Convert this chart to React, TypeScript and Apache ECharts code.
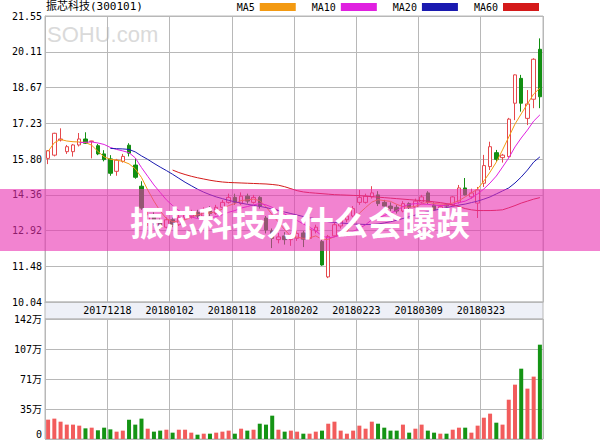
import React, { useEffect, useRef } from "react";
import * as echarts from "echarts";

const title = "振芯科技(300101)";
const bannerText = "振芯科技为什么会曝跌";
const watermark = "SOHU.com";

const dates = [
  "20171204","20171205","20171206","20171207","20171208","20171211","20171212","20171213","20171214","20171215",
  "20171218","20171219","20171220","20171221","20171222","20171225","20171226","20171227","20171228","20171229",
  "20180102","20180103","20180104","20180105","20180108","20180109","20180110","20180111","20180112","20180115",
  "20180118","20180119","20180122","20180123","20180125","20180126","20180129","20180130","20180131","20180201",
  "20180202","20180205","20180206","20180207","20180208","20180209","20180212","20180213","20180214","20180222",
  "20180223","20180226","20180227","20180228","20180301","20180302","20180305","20180306","20180307","20180308",
  "20180309","20180312","20180313","20180314","20180315","20180316","20180319","20180320","20180321","20180322",
  "20180323","20180326","20180327","20180328","20180329","20180330","20180402","20180403","20180404","20180409",
];
const shownDates = ["20171218","20180102","20180118","20180202","20180223","20180309","20180323"];

const opens = [
  15.82,15.95,16.56,16.09,16.09,16.36,16.60,16.50,16.33,16.00,
  15.80,15.30,15.70,16.35,15.55,14.70,13.30,13.50,13.25,13.05,
  13.35,13.15,13.45,13.50,13.65,13.50,13.75,13.60,13.85,14.05,
  14.25,14.00,14.30,14.05,14.25,13.42,12.90,12.55,12.70,12.55,
  12.60,12.82,12.60,12.90,12.47,11.05,12.70,13.10,13.35,13.50,
  14.05,14.05,14.27,14.35,14.05,13.90,13.85,13.70,14.00,13.85,
  14.06,14.43,13.94,13.76,13.95,13.94,14.06,14.63,14.27,14.02,
  14.82,15.49,16.05,15.85,15.89,18.04,19.04,17.43,18.20,20.21,
];
const closes = [
  16.13,16.83,16.60,16.29,16.36,16.60,16.43,16.52,16.00,15.77,
  15.22,15.75,15.90,16.03,15.06,13.82,13.55,13.25,13.05,13.35,
  13.15,13.45,13.55,13.65,13.50,13.75,13.60,13.85,14.05,14.25,
  14.05,14.30,14.10,14.25,13.90,12.94,12.60,12.66,12.55,12.65,
  12.80,12.57,12.95,13.05,11.53,12.68,13.15,13.35,13.50,13.80,
  14.25,14.30,14.43,14.00,13.90,13.80,13.70,14.00,13.85,14.10,
  14.27,14.06,13.74,13.88,13.90,14.27,14.63,14.35,14.43,14.55,
  15.53,16.29,15.78,15.95,17.40,19.18,18.04,18.01,19.81,18.30,
];
const lows = [
  15.59,15.90,16.50,16.00,15.89,16.30,16.40,15.82,15.95,15.70,
  15.12,15.12,15.65,15.90,15.00,13.75,13.10,13.15,12.95,13.00,
  13.05,13.10,13.35,13.40,13.40,13.45,13.50,13.55,13.80,14.00,
  13.95,13.95,14.00,14.00,13.80,12.80,12.21,12.40,12.35,12.30,
  12.50,12.25,12.55,12.80,11.50,11.00,12.65,13.00,13.25,13.45,
  13.95,14.00,14.20,13.90,13.80,13.70,13.60,13.65,13.75,13.80,
  14.00,13.98,13.70,13.70,13.80,13.90,14.00,14.33,14.20,13.42,
  14.67,15.35,15.69,15.65,15.85,17.36,17.70,17.16,17.84,17.84,
];
const highs = [
  16.15,16.85,17.03,16.36,16.40,16.84,16.87,16.53,16.40,16.15,
  15.95,15.80,16.00,16.43,15.82,14.90,13.70,13.65,13.40,13.45,
  13.45,13.55,13.70,13.75,13.75,13.85,13.90,13.95,14.15,14.40,
  14.40,14.45,14.40,14.35,14.30,13.50,13.00,12.82,12.85,12.80,
  12.90,12.90,13.10,13.15,12.55,12.74,13.25,13.45,13.60,13.90,
  14.55,14.40,14.70,14.50,14.15,14.05,13.95,14.10,14.05,14.20,
  14.35,14.50,14.05,13.95,14.00,14.30,14.75,15.03,14.60,14.67,
  15.96,16.49,16.16,16.00,17.45,19.20,19.18,18.57,19.85,20.65,
];
// 成交量（万）
const volumes = [
  22.9,24.1,20.5,17.0,17.0,15.8,12.6,13.4,10.3,13.4,
  11.4,8.7,9.9,22.9,17.0,24.1,12.2,8.7,9.9,11.0,
  7.5,11.0,11.0,7.5,5.1,6.3,6.3,7.5,8.7,9.9,
  6.3,12.2,9.9,11.0,18.1,17.0,27.6,11.0,8.7,9.9,
  8.7,6.3,6.3,8.7,9.9,18.1,20.5,9.9,6.3,9.9,
  15.8,12.2,20.5,18.1,13.4,9.9,9.9,17.0,7.5,12.2,
  17.0,9.9,7.5,6.3,6.3,11.0,13.4,13.4,7.5,15.8,
  25.2,30.0,19.3,17.0,46.5,64.3,83.2,59.6,73.8,111.6,
];
const ma5 = [
  16.10,16.45,16.58,16.52,16.49,16.48,16.46,16.35,16.10,15.88,
  15.78,15.75,15.70,15.60,15.40,15.05,14.55,14.10,13.70,13.40,
  13.27,13.30,13.35,13.45,13.55,13.60,13.62,13.68,13.78,13.92,
  14.00,14.12,14.15,14.18,14.12,13.88,13.55,13.25,12.95,12.68,
  12.65,12.60,12.62,12.70,12.56,12.56,12.67,12.75,12.84,13.30,
  13.61,13.84,14.06,14.16,14.12,14.09,13.97,13.88,13.85,13.89,
  13.98,14.06,14.00,13.98,13.97,14.02,14.12,14.27,14.43,14.59,
  14.91,15.27,15.67,16.16,16.68,17.20,17.61,18.01,18.41,18.65,
];
const ma10 = [
  null,null,null,null,null,16.45,16.47,16.48,16.44,16.38,
  16.26,16.18,16.12,16.05,15.84,15.45,15.10,14.75,14.45,14.15,
  13.92,13.72,13.56,13.46,13.40,13.38,13.42,13.48,13.55,13.65,
  13.72,13.82,13.88,13.95,14.00,13.95,13.85,13.72,13.58,13.45,
  13.32,13.18,13.05,12.90,12.70,12.62,12.66,12.74,12.82,12.88,
  13.00,13.15,13.35,13.43,13.52,13.62,13.72,13.88,13.97,14.00,
  13.98,13.97,13.94,13.92,13.93,13.97,14.04,14.10,14.22,14.39,
  14.59,14.83,15.11,15.47,15.84,16.28,16.64,16.96,17.32,17.57,
];
const ma20 = [
  null,null,null,null,null,null,null,null,null,null,
  16.22,16.21,16.20,16.18,16.08,15.92,15.78,15.62,15.47,15.33,
  15.18,15.02,14.86,14.72,14.58,14.46,14.36,14.27,14.20,14.13,
  14.07,14.02,13.97,13.93,13.89,13.84,13.78,13.72,13.66,13.60,
  13.54,13.48,13.43,13.39,13.32,13.27,13.24,13.22,13.20,13.18,
  13.17,13.16,13.16,13.18,13.22,13.27,13.33,13.40,13.47,13.54,
  13.62,13.68,13.73,13.78,13.84,13.89,13.94,13.98,14.04,14.10,
  14.18,14.27,14.39,14.51,14.63,14.83,15.07,15.35,15.67,15.88,
];
const ma60 = [
  null,null,null,null,null,null,null,null,null,null,
  null,null,null,null,null,null,null,null,null,null,
  15.35,15.25,15.17,15.10,15.04,14.99,14.94,14.90,14.87,14.85,
  14.84,14.83,14.82,14.81,14.80,14.79,14.77,14.74,14.68,14.60,
  14.52,14.47,14.44,14.42,14.40,14.38,14.36,14.35,14.34,14.33,
  14.32,14.30,14.28,14.26,14.24,14.22,14.20,14.18,14.16,14.14,
  14.12,14.10,14.07,14.04,14.00,13.95,13.88,13.80,13.75,13.72,
  13.72,13.72,13.73,13.75,13.83,13.92,14.02,14.10,14.18,14.24,
];

const priceTicks = ["10.04","11.48","12.92","14.36","15.80","17.23","18.67","20.11","21.55"];
const priceMin = 10.04;
const priceMax = 21.55;
const volumeTicks = ["0","35万","71万","107万","142万"];
const volumeMax = 142;

const MONO = "'DejaVu Sans Mono', 'Noto Sans CJK SC', monospace";
const GRID = "#b8b8b8";
const RED = "#e5484c";
const GREEN = "#128f12";
const VOL_RED = "#f25c5c";
const VOL_GREEN = "#159415";

export default function App() {
  const ref = useRef<HTMLDivElement>(null);
  useEffect(() => {
    if (!ref.current) return;
    const chart = echarts.init(ref.current, undefined, { renderer: "svg" });
    const showDate = (_i: number, v: string) => shownDates.includes(v);
    const volInterval = volumeMax / (volumeTicks.length - 1);
    const maSeries = (name: string, data: (number | null)[], color: string) => ({
      name,
      type: "line",
      xAxisIndex: 0,
      yAxisIndex: 0,
      data,
      symbol: "none",
      showSymbol: false,
      lineStyle: { width: 1, color },
      itemStyle: { color },
      z: 5,
    });
    chart.setOption({
      animation: false,
      backgroundColor: "#ffffff",
      title: {
        text: title,
        left: 46,
        top: 1,
        padding: 0,
        textStyle: { fontSize: 11, fontWeight: "normal", color: "#000", fontFamily: MONO },
      },
      legend: {
        data: ["MA5", "MA10", "MA20", "MA60"],
        right: 61,
        top: 2,
        padding: 0,
        align: "right",
        icon: "rect",
        itemWidth: 36,
        itemHeight: 8,
        itemGap: 16,
        textStyle: { fontSize: 10, color: "#000", fontFamily: MONO },
      },
      grid: [
        { left: 45, top: 16, width: 498, height: 286, show: true, borderColor: GRID, borderWidth: 1, backgroundColor: "transparent" },
        { left: 45, top: 319, width: 498, height: 120, show: true, borderColor: GRID, borderWidth: 1, backgroundColor: "transparent" },
      ],
      xAxis: [
        {
          type: "category",
          gridIndex: 0,
          data: dates,
          boundaryGap: true,
          axisLine: { show: true, lineStyle: { color: GRID } },
          axisTick: { show: false },
          axisLabel: {
            interval: showDate,
            fontSize: 10,
            fontFamily: MONO,
            color: "#000",
            margin: 3,
            padding: [0, 6, 0, 0],
          },
          splitLine: { show: true, interval: showDate, lineStyle: { color: GRID } },
        },
        {
          type: "category",
          gridIndex: 1,
          data: dates,
          boundaryGap: true,
          axisLine: { show: false },
          axisTick: { show: false },
          axisLabel: { show: false },
          splitLine: { show: true, interval: showDate, lineStyle: { color: GRID } },
        },
      ],
      yAxis: [
        { type: "value", gridIndex: 0, min: priceMin, max: priceMax, show: false },
        {
          type: "value",
          gridIndex: 0,
          min: 0,
          max: priceTicks.length - 1,
          interval: 1,
          position: "left",
          axisLine: { show: true, lineStyle: { color: GRID } },
          axisTick: { show: false },
          axisLabel: {
            margin: 3,
            fontSize: 10,
            fontFamily: MONO,
            color: "#000",
            formatter: (v: number) => priceTicks[Math.round(v)],
          },
          splitLine: { show: true, lineStyle: { color: GRID } },
        },
        {
          type: "value",
          gridIndex: 1,
          min: 0,
          max: volumeMax,
          interval: volInterval,
          position: "left",
          axisLine: { show: true, lineStyle: { color: GRID } },
          axisTick: { show: false },
          axisLabel: {
            margin: 3,
            fontSize: 10,
            fontFamily: MONO,
            color: "#000",
            formatter: (v: number) => {
              const i = Math.round(v / volInterval);
              return i === 0 ? "{z|" + volumeTicks[0] + "}" : volumeTicks[i];
            },
            rich: { z: { fontSize: 10, fontFamily: MONO, color: "#000", padding: [0, 0, 10, 0] } },
          },
          splitLine: { show: true, lineStyle: { color: GRID } },
        },
      ],
      series: [
        {
          name: "K",
          type: "candlestick",
          xAxisIndex: 0,
          yAxisIndex: 0,
          barWidth: 4,
          data: dates.map((_d, i) => [opens[i], closes[i], lows[i], highs[i]]),
          itemStyle: { color: "#ffffff", color0: GREEN, borderColor: RED, borderColor0: GREEN, borderWidth: 1 },
          z: 3,
        },
        maSeries("MA5", ma5, "#f39a12"),
        maSeries("MA10", ma10, "#e020e0"),
        maSeries("MA20", ma20, "#1a1ab0"),
        maSeries("MA60", ma60, "#d41a1a"),
        {
          name: "VOL",
          type: "bar",
          xAxisIndex: 1,
          yAxisIndex: 2,
          barWidth: 4,
          data: volumes.map((v, i) => ({
            value: v,
            itemStyle: { color: closes[i] >= opens[i] ? VOL_RED : VOL_GREEN },
          })),
        },
      ],
      graphic: [
        {
          type: "rect",
          z: -10,
          silent: true,
          shape: { x: 45, y: 302, width: 498, height: 17 },
          style: { fill: "#eef0f7", stroke: GRID, lineWidth: 1 },
        },
        {
          type: "text",
          z: -10,
          silent: true,
          x: 47,
          y: 23,
          style: { text: watermark, fontSize: 22, fill: "#dadada", fontFamily: "'Liberation Sans', sans-serif" },
        },
        {
          type: "rect",
          z: 100,
          silent: true,
          shape: { x: 0, y: 189, width: 600, height: 62 },
          style: { fill: "rgba(233,48,177,0.6)" },
        },
        {
          type: "text",
          z: 101,
          silent: true,
          x: 300,
          y: 221,
          style: {
            text: bannerText,
            fill: "#ffffff",
            fontSize: 34,
            fontWeight: "bold",
            fontFamily: "'Noto Sans CJK SC', sans-serif",
            align: "center",
            verticalAlign: "middle",
            textAlign: "center",
            textVerticalAlign: "middle",
          },
        },
      ],
    });
    return () => chart.dispose();
  }, []);
  return (
    <div
      ref={ref}
      style={{ position: "fixed", left: 0, top: 0, width: 600, height: 440 }}
    />
  );
}
